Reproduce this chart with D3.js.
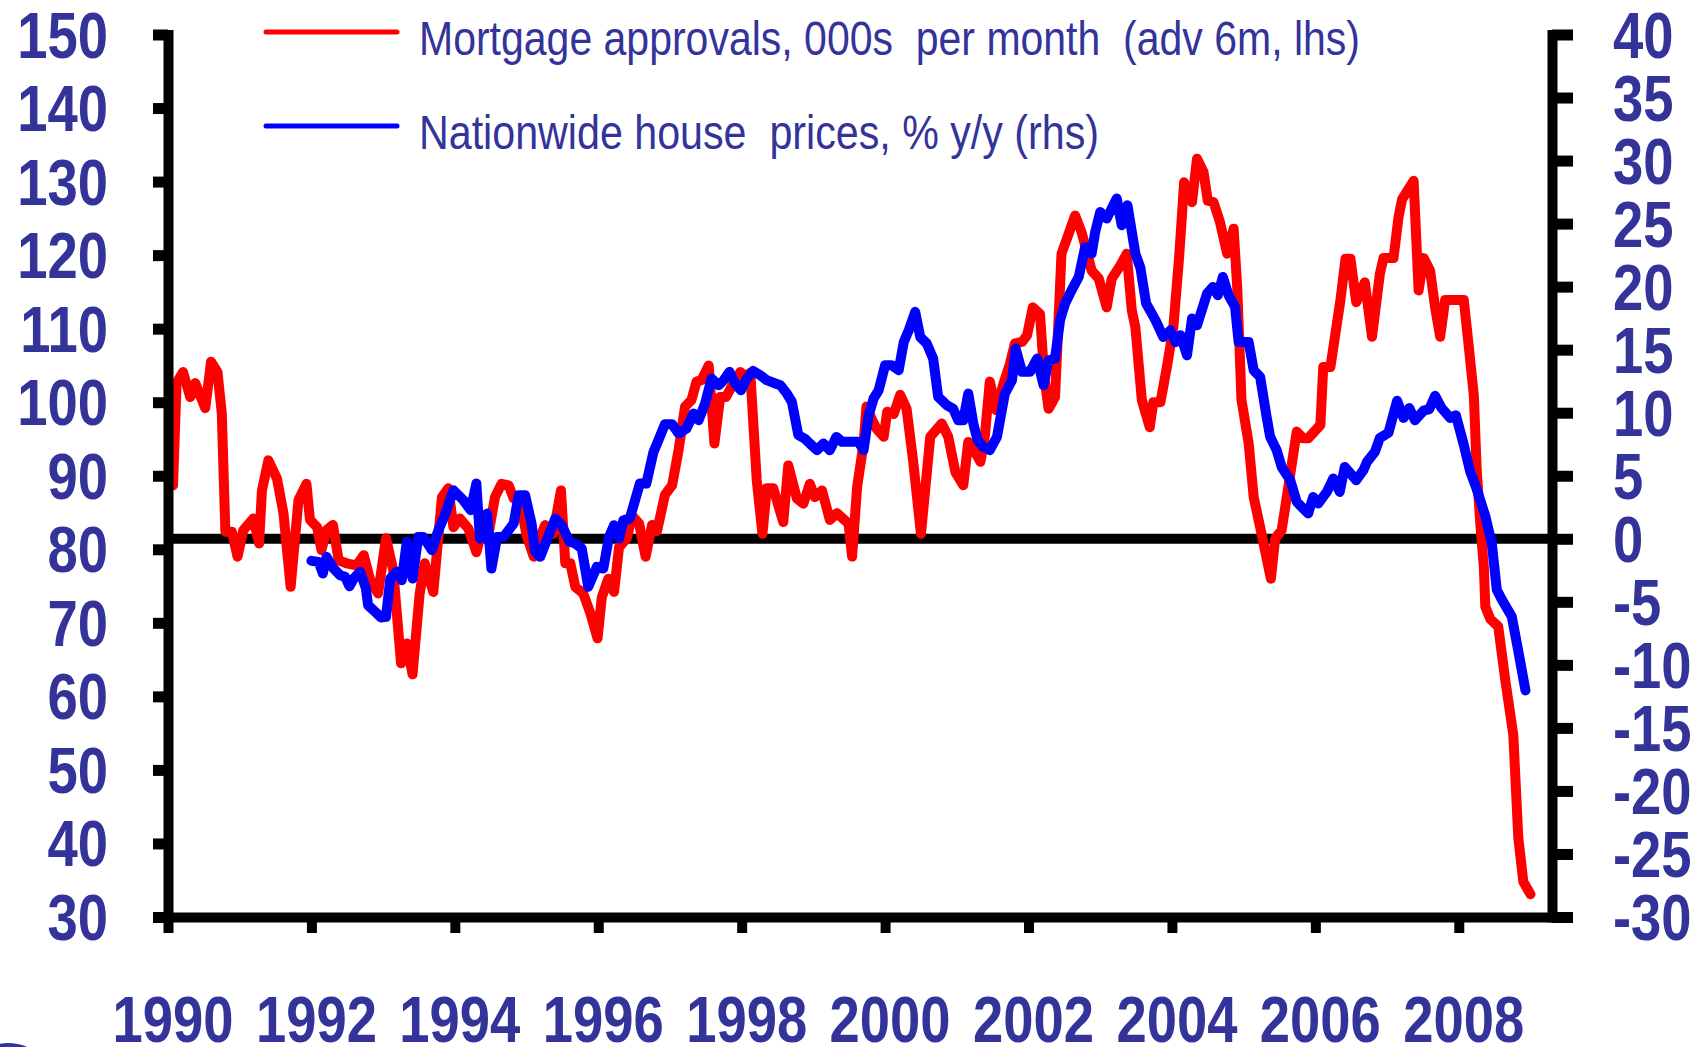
<!DOCTYPE html>
<html><head><meta charset="utf-8">
<script src="https://cdn.jsdelivr.net/npm/d3@7"></script>
<style>
html,body{margin:0;padding:0;background:#fff;}
svg{display:block;}
</style></head>
<body>
<svg id="chart" width="1706" height="1047"></svg>
<script>
// ---------- data ----------
const leftTicks = [30,40,50,60,70,80,90,100,110,120,130,140,150];
const rightTicks = [-30,-25,-20,-15,-10,-5,0,5,10,15,20,25,30,35,40];
const yearTicks = [1990,1992,1994,1996,1998,2000,2002,2004,2006,2008];
const seriesNames = ["Mortgage approvals, 000s  per month  (adv 6m, lhs)", "Nationwide house  prices, % y/y (rhs)"];

const redDates = [1990.07,1990.12,1990.21,1990.31,1990.38,1990.52,1990.60,1990.69,1990.75,1990.80,
1990.89,1990.97,1991.05,1991.19,1991.27,1991.31,1991.40,1991.52,1991.61,1991.71,
1991.82,1991.93,1991.98,1992.08,1992.14,1992.21,1992.30,1992.38,1992.49,1992.63,
1992.73,1992.82,1992.93,1993.04,1993.14,1993.25,1993.33,1993.41,1993.51,1993.58,
1993.70,1993.82,1993.91,1993.98,1994.07,1994.19,1994.30,1994.38,1994.47,1994.56,
1994.65,1994.75,1994.82,1994.91,1995.00,1995.10,1995.19,1995.26,1995.37,1995.48,
1995.54,1995.61,1995.68,1995.79,1995.89,1995.99,1996.05,1996.14,1996.22,1996.29,
1996.40,1996.47,1996.57,1996.66,1996.75,1996.82,1996.93,1997.03,1997.12,1997.21,
1997.30,1997.37,1997.44,1997.54,1997.62,1997.70,1997.78,1997.86,1997.98,1998.05,
1998.12,1998.21,1998.29,1998.35,1998.44,1998.58,1998.65,1998.77,1998.86,1998.95,
1999.02,1999.12,1999.23,1999.33,1999.41,1999.49,1999.54,1999.61,1999.70,1999.74,
1999.81,1999.88,1999.98,2000.03,2000.12,2000.21,2000.30,2000.39,2000.50,2000.63,
2000.79,2000.88,2000.98,2001.09,2001.16,2001.23,2001.33,2001.39,2001.46,2001.55,
2001.65,2001.74,2001.81,2001.91,2001.98,2002.06,2002.16,2002.22,2002.28,2002.37,
2002.46,2002.56,2002.65,2002.74,2002.81,2002.88,2002.98,2003.09,2003.16,2003.28,
2003.37,2003.44,2003.49,2003.58,2003.69,2003.74,2003.84,2003.93,2004.02,2004.10,
2004.17,2004.28,2004.35,2004.44,2004.50,2004.58,2004.67,2004.77,2004.86,2004.91,
2004.97,2005.07,2005.14,2005.25,2005.38,2005.44,2005.53,2005.63,2005.74,2005.83,
2005.90,2006.07,2006.11,2006.21,2006.35,2006.42,2006.49,2006.57,2006.69,2006.79,
2006.90,2006.95,2007.09,2007.16,2007.21,2007.37,2007.44,2007.51,2007.60,2007.67,
2007.74,2007.81,2008.07,2008.14,2008.21,2008.25,2008.30,2008.35,2008.37,2008.44,
2008.55,2008.65,2008.76,2008.83,2008.90,2009.00];
const redValues = [88.7,102.6,104.1,100.7,102.6,99.2,105.5,104.1,98.5,82.4,
82.4,79.0,82.6,84.2,80.8,88.0,92.1,89.6,84.9,74.9,
86.7,88.9,84.0,83.0,79.9,82.6,83.3,78.5,78.1,77.8,
79.2,75.8,74.0,81.5,77.2,64.5,67.2,63.0,74.0,78.1,
74.2,87.1,88.3,83.0,84.2,82.8,79.6,82.6,82.1,87.1,
88.9,88.7,86.9,86.7,81.9,79.0,81.7,83.3,82.1,88.0,
78.1,78.1,74.9,74.0,71.3,67.9,73.5,76.0,74.2,80.3,
81.5,84.6,83.5,79.0,83.3,82.5,87.4,88.7,93.5,99.4,
100.3,102.8,103.0,105.0,94.4,100.7,100.7,102.1,104.1,103.5,
104.0,89.4,82.1,88.3,88.3,83.7,91.4,86.9,86.2,88.9,
87.1,88.0,84.0,84.9,84.2,83.5,79.0,88.5,94.4,99.4,
97.8,96.4,95.3,98.7,98.4,101.0,99.1,92.1,82.1,95.3,
97.1,95.3,90.5,88.7,94.6,93.7,91.9,95.3,102.8,98.9,
102.5,105.2,108.0,108.2,109.1,112.9,112.0,103.4,99.1,100.7,
120.2,122.9,125.4,123.1,120.6,117.9,116.8,112.9,116.8,118.6,
120.2,112.5,110.2,100.3,96.6,100.0,100.0,104.8,110.2,119.7,
129.9,127.2,133.1,131.3,127.4,127.2,124.5,120.2,123.6,115.7,
100.3,94.4,87.1,82.1,76.0,81.5,82.6,88.9,96.0,95.1,
95.1,96.9,104.8,104.8,113.9,119.5,119.5,113.6,116.3,108.9,
117.5,119.6,119.6,125.2,127.6,130.1,115.2,119.6,117.9,112.9,
108.9,113.9,113.9,107.5,100.9,90.8,83.5,77.5,72.2,70.5,
69.5,62.1,54.8,40.8,34.8,33.1];

const blueDates = [1992.00,1992.10,1992.16,1992.21,1992.31,1992.40,1992.47,1992.53,1992.59,1992.68,
1992.76,1992.79,1992.89,1992.97,1993.04,1993.10,1993.19,1993.26,1993.33,1993.41,
1993.49,1993.56,1993.68,1993.77,1993.86,1993.98,1994.12,1994.22,1994.30,1994.35,
1994.45,1994.51,1994.59,1994.68,1994.82,1994.89,1994.98,1995.07,1995.12,1995.19,
1995.30,1995.40,1995.49,1995.60,1995.68,1995.77,1995.86,1995.98,1996.07,1996.15,
1996.22,1996.29,1996.35,1996.44,1996.58,1996.67,1996.77,1996.82,1996.93,1997.03,
1997.12,1997.23,1997.33,1997.40,1997.49,1997.58,1997.68,1997.75,1997.83,1997.91,
1997.99,1998.07,1998.16,1998.26,1998.35,1998.47,1998.54,1998.63,1998.70,1998.79,
1998.88,1998.95,1999.05,1999.14,1999.23,1999.32,1999.40,1999.63,1999.70,1999.77,
1999.84,1999.91,2000.00,2000.09,2000.19,2000.26,2000.33,2000.42,2000.49,2000.58,
2000.67,2000.74,2000.86,2000.95,2001.02,2001.09,2001.16,2001.23,2001.29,2001.37,
2001.46,2001.56,2001.67,2001.77,2001.82,2001.91,2002.02,2002.12,2002.21,2002.28,
2002.37,2002.44,2002.51,2002.60,2002.70,2002.79,2002.88,2002.93,2003.00,2003.09,
2003.23,2003.30,2003.38,2003.49,2003.56,2003.64,2003.77,2003.88,2003.98,2004.05,
2004.12,2004.21,2004.28,2004.35,2004.49,2004.57,2004.64,2004.71,2004.79,2004.88,
2004.93,2005.07,2005.14,2005.23,2005.32,2005.37,2005.46,2005.53,2005.65,2005.74,
2005.83,2005.90,2005.97,2006.04,2006.16,2006.25,2006.34,2006.41,2006.49,2006.57,
2006.67,2006.72,2006.83,2006.90,2007.02,2007.14,2007.23,2007.31,2007.39,2007.51,
2007.59,2007.67,2007.76,2007.88,2007.96,2008.07,2008.16,2008.25,2008.37,2008.46,
2008.53,2008.60,2008.74,2008.83,2008.93];
const blueValues = [-1.75,-1.83,-2.75,-1.43,-2.36,-2.89,-3.02,-3.76,-3.15,-2.62,
-3.94,-5.27,-5.80,-6.24,-6.19,-3.15,-2.62,-3.28,-0.24,-3.15,
0.15,0.15,-0.9,0.68,1.87,3.85,3.06,2.27,4.38,0.02,
2.0,-2.36,0.15,0.15,1.21,3.46,3.46,1.21,-1.04,-1.43,
0.15,1.61,1.08,-0.24,-0.37,-0.77,-3.81,-2.23,-2.36,0.15,
1.08,0.02,1.47,1.61,4.38,4.38,6.89,7.56,9.09,9.09,
8.35,8.75,9.94,9.41,10.73,12.71,12.18,12.58,13.24,12.32,
11.78,12.71,13.31,12.97,12.58,12.32,12.18,11.52,10.86,8.22,
7.95,7.56,7.03,7.56,7.03,8.08,7.69,7.69,7.03,9.8,
11.13,11.78,13.77,13.77,13.37,15.6,16.54,18.0,16.0,15.5,
14.3,11.25,10.6,10.3,9.4,9.4,11.52,9.15,7.82,7.29,
7.03,8.08,11.52,12.58,15.09,13.24,13.24,14.3,12.18,14.16,
14.3,17.34,18.66,19.71,20.77,23.15,22.62,24.34,25.92,25.4,
26.99,24.87,26.46,22.62,21.5,18.66,17.34,16.0,16.54,15.6,
16.15,14.56,17.47,16.94,19.45,19.98,19.32,20.77,19.32,18.39,
15.6,15.6,13.37,12.84,9.67,8.08,7.03,5.7,4.65,2.93,
2.40,2.01,3.32,2.80,3.72,4.78,3.72,5.7,5.18,4.65,
5.44,6.10,6.89,8.0,8.42,10.95,9.59,10.37,9.4,10.17,
10.29,11.34,10.37,9.59,9.79,7.45,5.31,3.94,1.8,-0.34,
-4.04,-4.82,-6.19,-8.91,-12.03];

// ---------- layout ----------
const TXT = "#333399";
const FONT = "'Liberation Sans', Arial, Helvetica, sans-serif";
const svg = d3.select("#chart");

const x = d3.scaleLinear().domain([1990, 2009.3]).range([168, 1552]);
const yL = d3.scaleLinear().domain([30, 150]).range([917, 34.5]);
const yR = d3.scaleLinear().domain([-30, 40]).range([917, 34.5]);

// zero line (rhs 0)
svg.append("line")
  .attr("x1", x.range()[0]).attr("x2", x.range()[1])
  .attr("y1", yR(0)).attr("y2", yR(0))
  .attr("stroke", "#000").attr("stroke-width", 10);

// series
const lineL = d3.line().x(d => x(d[0])).y(d => yL(d[1]));
const lineR = d3.line().x(d => x(d[0])).y(d => yR(d[1]));
svg.append("path").datum(d3.zip(redDates, redValues))
  .attr("d", lineL).attr("fill", "none").attr("stroke", "#ff0000")
  .attr("stroke-width", 10).attr("stroke-linejoin", "round").attr("stroke-linecap", "round");
svg.append("path").datum(d3.zip(blueDates, blueValues))
  .attr("d", lineR).attr("fill", "none").attr("stroke", "#0000ff")
  .attr("stroke-width", 10).attr("stroke-linejoin", "round").attr("stroke-linecap", "round");

// axes
function styleAxis(g, tw) {
  g.select(".domain").attr("stroke", "#000").attr("stroke-width", 10).attr("stroke-linecap", "square");
  g.selectAll(".tick line").attr("stroke", "#000").attr("stroke-width", tw);
  g.selectAll(".tick text").remove();
}
svg.append("g").attr("transform", `translate(${x.range()[0]},0)`)
  .call(d3.axisLeft(yL).tickValues(leftTicks).tickSize(15).tickSizeOuter(0).tickFormat(""))
  .call(g => styleAxis(g, 11));
svg.append("g").attr("transform", `translate(${x.range()[1]},0)`)
  .call(d3.axisRight(yR).tickValues(rightTicks).tickSize(21).tickSizeOuter(0).tickFormat(""))
  .call(g => styleAxis(g, 11));
svg.append("g").attr("transform", `translate(0,${yL(30)})`)
  .call(d3.axisBottom(x).tickValues(yearTicks).tickSize(16).tickSizeOuter(0).tickFormat(""))
  .call(g => styleAxis(g, 10));

// tick labels
function label(tx, ty, str, anchor) {
  svg.append("text")
    .attr("transform", `translate(${tx},${ty}) scale(0.85,1)`)
    .attr("text-anchor", anchor)
    .attr("font-family", FONT).attr("font-weight", "bold").attr("font-size", 64)
    .attr("fill", TXT).text(str);
}
leftTicks.forEach(v => label(108, yL(v) + 23, String(v), "end"));
rightTicks.forEach(v => label(1613, yR(v) + 23, String(v), "start"));
yearTicks.forEach(v => label(x(v) + 5, 1042, String(v), "middle"));

// legend
const legendY = [32, 126];
const legendColors = ["#ff0000", "#0000ff"];
const legendLen = [941, 680];
seriesNames.forEach((name, i) => {
  svg.append("line").attr("x1", 266).attr("x2", 397)
    .attr("y1", legendY[i]).attr("y2", legendY[i])
    .attr("stroke", legendColors[i]).attr("stroke-width", 5).attr("stroke-linecap", "round");
  svg.append("text").attr("x", 419).attr("y", legendY[i] + 23)
    .attr("font-family", FONT).attr("font-size", 48).attr("fill", TXT)
    .style("white-space", "pre")
    .attr("textLength", legendLen[i]).attr("lengthAdjust", "spacingAndGlyphs")
    .text(name);
});

// corner logo fragment
svg.append("circle").attr("cx", 8).attr("cy", 1092).attr("r", 49).attr("fill", TXT);
</script>
</body></html>
